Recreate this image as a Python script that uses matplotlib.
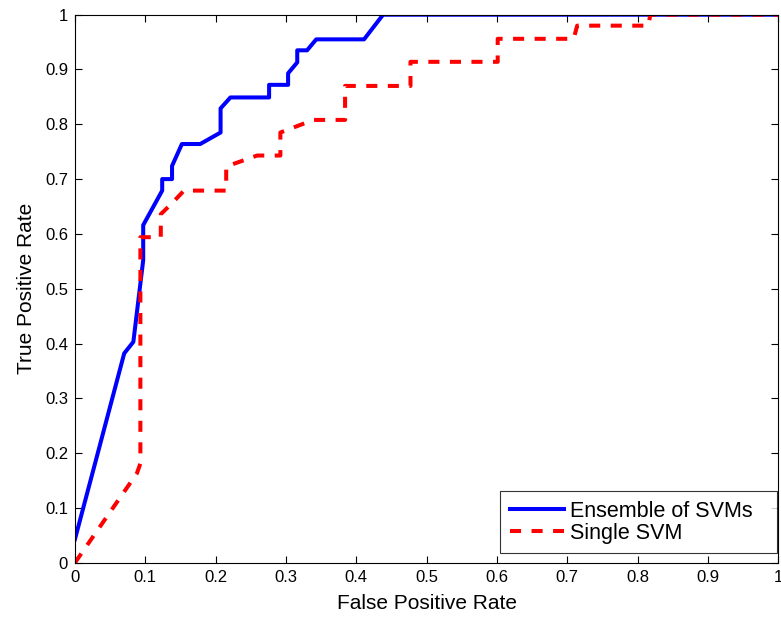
import matplotlib
matplotlib.use("Agg")
import matplotlib.pyplot as plt

plt.rcParams["font.family"] = ["Liberation Sans", "DejaVu Sans"]

# ROC curve points
ensemble_fpr = [0.0, 0.070, 0.083, 0.097, 0.097, 0.124, 0.124, 0.138, 0.138, 0.152, 0.178,
                0.207, 0.207, 0.221, 0.276, 0.276, 0.303, 0.303, 0.316, 0.316, 0.330,
                0.343, 0.411, 0.438, 1.0]
ensemble_tpr = [0.043, 0.382, 0.403, 0.552, 0.616, 0.679, 0.700, 0.700, 0.724, 0.764, 0.764,
                0.785, 0.829, 0.849, 0.849, 0.872, 0.872, 0.893, 0.913, 0.935, 0.935,
                0.955, 0.955, 1.0, 1.0]

single_fpr = [0.0, 0.088, 0.093, 0.093, 0.122, 0.122, 0.138, 0.155, 0.215, 0.215, 0.259,
              0.292, 0.292, 0.339, 0.384, 0.384, 0.477, 0.477, 0.601, 0.601, 0.709,
              0.714, 0.815, 0.818, 1.0]
single_tpr = [0.0, 0.163, 0.181, 0.594, 0.594, 0.636, 0.656, 0.679, 0.679, 0.723, 0.743,
              0.743, 0.785, 0.808, 0.808, 0.870, 0.870, 0.914, 0.914, 0.956, 0.956,
              0.980, 0.980, 1.0, 1.0]

x_ticks = [0, 0.1, 0.2, 0.3, 0.4, 0.5, 0.6, 0.7, 0.8, 0.9, 1]
x_tick_labels = ["0", "0.1", "0.2", "0.3", "0.4", "0.5", "0.6", "0.7", "0.8", "0.9", "1"]

fig = plt.figure(figsize=(7.81, 6.2), dpi=100)
ax = fig.add_axes([0.096, 0.0924, 0.9006, 0.8839])

ax.plot(ensemble_fpr, ensemble_tpr, color="#0000ff", lw=2.9, label="Ensemble of SVMs")
ax.plot(single_fpr, single_tpr, color="#ff0000", lw=2.9, dashes=(2.75, 2.6),
        label="Single SVM")

ax.set_xlim(0, 1)
ax.set_ylim(0, 1)
ax.set_xticks(x_ticks)
ax.set_xticklabels(x_tick_labels)
ax.set_yticks(x_ticks)
ax.set_yticklabels(x_tick_labels)
ax.tick_params(direction="in", top=True, right=True, length=5, labelsize=12, pad=5)
for s in ax.spines.values():
    s.set_linewidth(0.8)

ax.set_xlabel("False Positive Rate", fontsize=15, labelpad=7)
ax.set_ylabel("True Positive Rate", fontsize=15, labelpad=6.5)

leg = ax.legend(loc="lower left", bbox_to_anchor=(0.6047, 0.017, 0.3933, 0), mode="expand",
                fontsize=15.5, frameon=True, fancybox=False, edgecolor="black",
                handlelength=2.5, borderpad=0.45, labelspacing=0.05, handletextpad=0.3,
                borderaxespad=0)
leg.get_frame().set_linewidth(0.8)

fig.savefig("out.png", dpi=100)
